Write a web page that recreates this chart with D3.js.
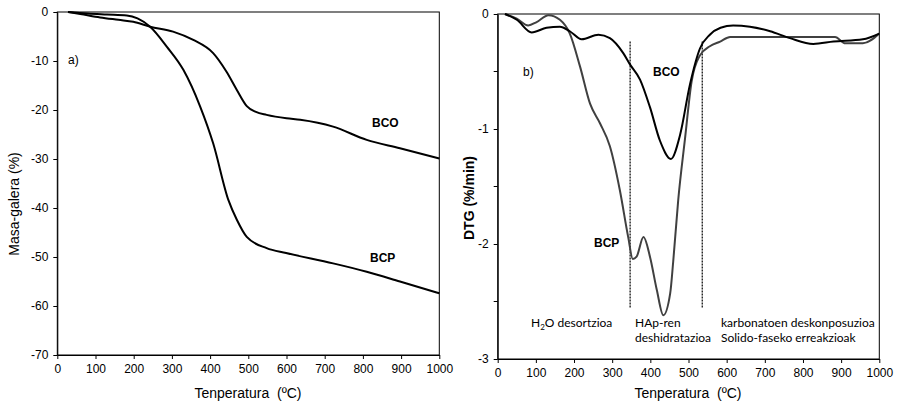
<!DOCTYPE html>
<html>
<head>
<meta charset="utf-8">
<script src="https://cdn.jsdelivr.net/npm/d3@7"></script>
<style>
  body { margin: 0; background: #fff; }
  svg { display: block; font-family: "Liberation Sans", Arial, sans-serif; }
</style>
</head>
<body>
<script>
// TG curves (mass loss, %)
const tgTempBCO = [28, 60, 112, 160, 199, 243, 303, 356, 408, 443, 470, 496, 520, 548, 600, 636, 722, 810, 897, 1000];
const tgBCO = [0, -0.4, -1.1, -1.6, -2.0, -3.0, -4.0, -5.7, -8.4, -12.2, -15.9, -19.2, -20.4, -21.0, -21.7, -22.0, -23.4, -26.1, -27.8, -29.9];
const tgTempBCP = [28, 80, 130, 182, 210, 243, 287, 330, 374, 408, 448, 470, 496, 548, 599, 722, 810, 897, 1000];
const tgBCP = [0, -0.3, -0.5, -0.7, -1.3, -3.0, -7.1, -11.8, -19.3, -26.8, -38.4, -42.4, -45.9, -48.2, -49.2, -51.3, -53.0, -55.0, -57.4];

// DTG curves (%/min)
const dtgTempBCO = [19, 50, 89, 128, 163, 189, 220, 264, 294, 329, 347, 373, 399, 425, 454, 478, 504, 530, 556, 584, 617, 661, 714, 766, 827, 880, 957, 1000];
const dtgBCO = [0, -0.05, -0.16, -0.12, -0.11, -0.15, -0.22, -0.18, -0.21, -0.34, -0.44, -0.57, -0.81, -1.10, -1.26, -1.05, -0.61, -0.30, -0.18, -0.12, -0.10, -0.11, -0.15, -0.21, -0.26, -0.24, -0.22, -0.17];
const dtgTempBCP = [19, 50, 80, 102, 133, 163, 189, 216, 242, 268, 294, 320, 342, 354, 364, 382, 399, 417, 434, 452, 460, 473, 491, 508, 530, 556, 583, 609, 884, 911, 957, 1000];
const dtgBCP = [0, -0.04, -0.10, -0.07, -0.01, -0.05, -0.17, -0.46, -0.78, -0.95, -1.15, -1.53, -1.94, -2.13, -2.11, -1.94, -2.11, -2.40, -2.62, -2.43, -2.15, -1.62, -1.08, -0.59, -0.36, -0.28, -0.24, -0.20, -0.20, -0.255, -0.255, -0.17];

const xTicks = [0, 100, 200, 300, 400, 500, 600, 700, 800, 900, 1000];
const tgTicks = [0, -10, -20, -30, -40, -50, -60, -70];
const dtgTicks = [0, -1, -2, -3];
const dtgMinor = [-0.5, -1.5, -2.5];
const zoneLines = [347, 536];

const W = 897, H = 406;

const svg = d3.select("body").append("svg")
  .attr("width", W)
  .attr("height", H);

function frame(x, y) {
  svg.append("rect")
    .attr("x", x.range()[0]).attr("y", y.range()[1])
    .attr("width", x.range()[1] - x.range()[0])
    .attr("height", y.range()[0] - y.range()[1])
    .attr("fill", "none").attr("stroke", "#000").attr("stroke-width", 1);
}

function axes(x, y, yTicks) {
  const xa = svg.append("g")
    .attr("transform", "translate(0," + y.range()[0] + ")")
    .call(d3.axisBottom(x).tickValues(xTicks).tickSize(4).tickPadding(5).tickSizeOuter(0)
      .tickFormat(d => String(d)));
  const ya = svg.append("g")
    .attr("transform", "translate(" + x.range()[0] + ",0)")
    .call(d3.axisLeft(y).tickValues(yTicks).tickSize(4).tickPadding(5).tickSizeOuter(0)
      .tickFormat(d => String(d)));
  [xa, ya].forEach(g => {
    g.selectAll("text").attr("font-size", 12).attr("fill", "#000")
      .attr("font-family", "Liberation Sans, Arial, sans-serif");
    g.selectAll("line").attr("stroke", "#000");
    g.select(".domain").attr("stroke", "#000");
  });
}

function curve(x, y, temps, vals, color, width) {
  const line = d3.line()
    .x((d, i) => x(temps[i]))
    .y(d => y(d))
    .curve(d3.curveMonotoneX);
  svg.append("path")
    .attr("d", line(vals))
    .attr("fill", "none")
    .attr("stroke", color)
    .attr("stroke-width", width)
    .attr("stroke-linejoin", "round");
}

// ---------- a) TG ----------
const xA = d3.scaleLinear().domain([0, 1000]).range([57.3, 439.3]);
const yA = d3.scaleLinear().domain([-70, 0]).range([355, 12]);

frame(xA, yA);
axes(xA, yA, tgTicks);
curve(xA, yA, tgTempBCP, tgBCP, "#000", 2);
curve(xA, yA, tgTempBCO, tgBCO, "#000", 2);

svg.append("text").attr("x", 68).attr("y", 64).attr("font-size", 12).text("a)");
svg.append("text").attr("x", 372).attr("y", 127).attr("font-size", 12).attr("font-weight", "bold").text("BCO");
svg.append("text").attr("x", 370).attr("y", 262).attr("font-size", 12).attr("font-weight", "bold").text("BCP");

svg.append("text")
  .attr("x", 248).attr("y", 398)
  .attr("text-anchor", "middle").attr("font-size", 14)
  .attr("xml:space", "preserve")
  .text("Tenperatura  (ºC)");

svg.append("text")
  .attr("transform", "translate(19,204) rotate(-90)")
  .attr("text-anchor", "middle").attr("font-size", 14)
  .text("Masa-galera (%)");

// ---------- b) DTG ----------
const xB = d3.scaleLinear().domain([0, 1000]).range([497.7, 879.3]);
const yB = d3.scaleLinear().domain([-3, 0]).range([359, 14]);

frame(xB, yB);
axes(xB, yB, dtgTicks);

svg.append("g").selectAll("line")
  .data(dtgMinor).enter().append("line")
  .attr("x1", xB(0) - 4).attr("x2", xB(0))
  .attr("y1", d => yB(d)).attr("y2", d => yB(d))
  .attr("stroke", "#000");

svg.append("g").selectAll("line")
  .data(zoneLines).enter().append("line")
  .attr("x1", d => xB(d)).attr("x2", d => xB(d))
  .attr("y1", yB(-0.24)).attr("y2", yB(-2.56))
  .attr("stroke", "#000").attr("stroke-width", 1.2)
  .attr("stroke-dasharray", "2,1");

curve(xB, yB, dtgTempBCP, dtgBCP, "#404040", 2);
curve(xB, yB, dtgTempBCO, dtgBCO, "#000", 2);

svg.append("text").attr("x", 523).attr("y", 76).attr("font-size", 12).text("b)");
svg.append("text").attr("x", 653).attr("y", 76).attr("font-size", 12).attr("font-weight", "bold").text("BCO");
svg.append("text").attr("x", 594).attr("y", 247).attr("font-size", 12).attr("font-weight", "bold").text("BCP");

const note = { "font-family": "Lato, 'Open Sans', sans-serif", "font-size": 12 };
const h2o = svg.append("text").attr("x", 531).attr("y", 327)
  .attr("font-family", note["font-family"]).attr("font-size", note["font-size"]);
h2o.append("tspan").text("H");
h2o.append("tspan").attr("font-size", 8).attr("dy", 3).text("2");
h2o.append("tspan").attr("dy", -3).text("O desortzioa");

[["HAp-ren", 635, 327], ["deshidratazioa", 635, 342],
 ["karbonatoen deskonposuzioa", 721, 327], ["Solido-faseko erreakzioak", 721, 342]]
  .forEach(t => {
    svg.append("text").attr("x", t[1]).attr("y", t[2])
      .attr("font-family", note["font-family"]).attr("font-size", note["font-size"])
      .text(t[0]);
  });

svg.append("text")
  .attr("x", 688).attr("y", 398)
  .attr("text-anchor", "middle").attr("font-size", 14)
  .attr("xml:space", "preserve")
  .text("Tenperatura  (ºC)");

svg.append("text")
  .attr("transform", "translate(474,198) rotate(-90)")
  .attr("text-anchor", "middle").attr("font-size", 14).attr("font-weight", "bold")
  .text("DTG (%/min)");
</script>
</body>
</html>
